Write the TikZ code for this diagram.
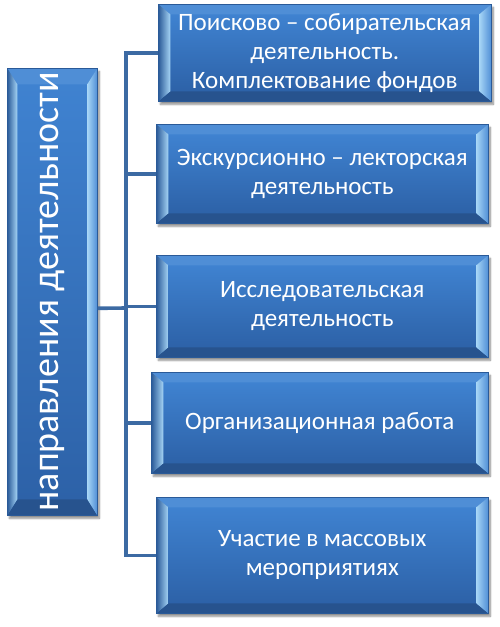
\documentclass[tikz,border=0pt]{standalone}
\usepackage{fontspec}
\setmainfont{Carlito}
\usepackage{graphicx}
\usetikzlibrary{calc,shadows.blur}
\definecolor{faceTop}{HTML}{3F82D0}
\definecolor{faceBot}{HTML}{2D62A8}
\definecolor{edgeBlue}{HTML}{2A5A98}
\definecolor{bevLight}{HTML}{A6D5F6}
\definecolor{bevMid}{HTML}{4F8ED6}
\definecolor{bevDark}{HTML}{27538E}
\definecolor{connBlue}{HTML}{3C6AA3}
\newcommand\bevelpp[2]{%
  \coordinate (pNW) at (path picture bounding box.north west);
  \coordinate (pNE) at (path picture bounding box.north east);
  \coordinate (pSW) at (path picture bounding box.south west);
  \coordinate (pSE) at (path picture bounding box.south east);
  \coordinate (iNW) at ($(pNW)+(#1,-#2)$);
  \coordinate (iNE) at ($(pNE)+(-#1,-#2)$);
  \coordinate (iSW) at ($(pSW)+(#1,#2)$);
  \coordinate (iSE) at ($(pSE)+(-#1,#2)$);
  \shade[top color=faceTop,bottom color=faceBot] (iNW) rectangle (iSE);
  \fill[bevMid] (pNW) -- (pNE) -- (iNE) -- (iNW) -- cycle;
  \fill[bevDark] (pSW) -- (pSE) -- (iSE) -- (iSW) -- cycle;
  \shade[left color=edgeBlue,right color=bevLight] (pNW) -- (iNW) -- (iSW) -- (pSW) -- cycle;
  \shade[left color=bevLight,right color=bevMid] (pNE) -- (iNE) -- (iSE) -- (pSE) -- cycle;
}
\tikzset{
  bevelbox/.style={rectangle, inner sep=0pt, text=white, align=center,
    draw=edgeBlue, line width=0.6pt, fill=faceTop,
    blur shadow={shadow xshift=2pt, shadow yshift=-3pt, shadow blur steps=6, shadow opacity=45},
    font=\fontsize{25}{29}\selectfont,
    path picture={\bevelpp{12pt}{10pt}}},
  tallbox/.style={bevelbox, path picture={\bevelpp{10pt}{16pt}}},
  conn/.style={draw=connBlue, line width=3.6pt}
}
\begin{document}
\begin{tikzpicture}[x=1pt,y=-1pt]
\useasboundingbox (0,0) rectangle (500,627);
\node[tallbox, anchor=north west, minimum width=90pt, minimum height=447pt] (left) at (7,68)
  {\rotatebox{90}{\fontsize{38}{40}\selectfont направления деятельности}};
\node[bevelbox, anchor=north west, minimum width=333pt, minimum height=97pt] (b1) at (158,4)
  {Поисково – собирательская\\деятельность.\\Комплектование фондов};
\node[bevelbox, anchor=north west, minimum width=332pt, minimum height=99pt] (b2) at (156,124)
  {Экскурсионно – лекторская\\деятельность};
\node[bevelbox, anchor=north west, minimum width=332pt, minimum height=102pt] (b3) at (156,255)
  {Исследовательская\\деятельность};
\node[bevelbox, anchor=north west, minimum width=337pt, minimum height=101pt] (b4) at (151,372)
  {Организационная работа};
\node[bevelbox, anchor=north west, minimum width=332pt, minimum height=116pt] (b5) at (156,497)
  {Участие в массовых\\мероприятиях};
\coordinate (hub) at (126,308);
\draw[conn] ([yshift=-16.5pt]left.east) -- (hub);
\draw[conn] (hub) |- (b1.west);
\draw[conn] (hub) |- (b2.west);
\draw[conn] (hub) |- (b3.west);
\draw[conn] (hub) |- (b4.west);
\draw[conn] (hub) |- (b5.west);
\end{tikzpicture}
\end{document}
